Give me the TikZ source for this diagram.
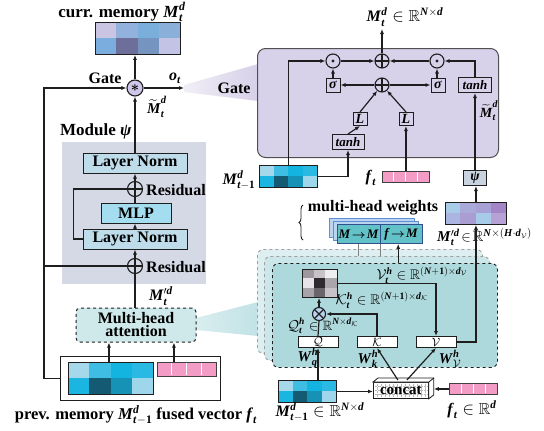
\documentclass[tikz,border=0pt]{standalone}
\usepackage{amsmath,amssymb}
\usepackage{fontspec}
\setmainfont{Liberation Serif}
\usetikzlibrary{arrows.meta,calc,decorations.pathreplacing}

\newcommand\bv[1]{\textbf{\textit{#1}}}
\newcommand\fsz[1]{\fontsize{#1}{#1}\selectfont}

% palette
\definecolor{ink}{HTML}{1E1E1E}
\definecolor{modgray}{HTML}{D5D9E6}
\definecolor{lnblue}{HTML}{BEDCEA}
\definecolor{mlpblue}{HTML}{A5DDF0}
\definecolor{mhafill}{HTML}{CFE9EB}
\definecolor{gatefill}{HTML}{D7D2EA}
\definecolor{gateedge}{HTML}{505050}
\definecolor{starfill}{HTML}{CFC7EA}
\definecolor{gateband}{HTML}{D6D0E8}
\definecolor{attband}{HTML}{C1E2E5}
\definecolor{attA}{HTML}{AED9DC}
\definecolor{attB}{HTML}{CBE7EA}
\definecolor{attC}{HTML}{DDEFF1}
\definecolor{wfront}{HTML}{62C2C8}
\definecolor{wedge}{HTML}{2F4F8F}
\definecolor{wback}{HTML}{BBD5F0}
\definecolor{wbackedge}{HTML}{5E8ED4}
\definecolor{pinkc}{HTML}{F29CC6}
\definecolor{otfill}{HTML}{B7D3EF}
\definecolor{psifill}{HTML}{C9D3DF}
% memory cells
\definecolor{p11}{HTML}{A6D8EC}\definecolor{p12}{HTML}{40BDE3}
\definecolor{p13}{HTML}{14B4E0}\definecolor{p14}{HTML}{2AB9E3}
\definecolor{p21}{HTML}{1AB5E1}\definecolor{p22}{HTML}{145A72}
\definecolor{p23}{HTML}{1592B5}\definecolor{p24}{HTML}{9ED6EC}
\definecolor{c11}{HTML}{C9C5E3}\definecolor{c12}{HTML}{92B1DD}
\definecolor{c13}{HTML}{7AAEDB}\definecolor{c14}{HTML}{8AAFD9}
\definecolor{c21}{HTML}{7BAEDE}\definecolor{c22}{HTML}{6E6E9A}
\definecolor{c23}{HTML}{7594BF}\definecolor{c24}{HTML}{C3C3E5}
\definecolor{m11}{HTML}{A8CBE8}\definecolor{m12}{HTML}{A9A9DA}
\definecolor{m13}{HTML}{A7A1D5}\definecolor{m14}{HTML}{A286C7}
\definecolor{m21}{HTML}{AAB5E1}\definecolor{m22}{HTML}{AA9DD1}
\definecolor{m23}{HTML}{A6CCE9}\definecolor{m24}{HTML}{B8A1D5}
\definecolor{a11}{HTML}{9E989E}\definecolor{a12}{HTML}{C6C2C6}
\definecolor{a13}{HTML}{EEEEEE}\definecolor{a21}{HTML}{E6E4E6}
\definecolor{a22}{HTML}{2E292E}\definecolor{a23}{HTML}{A9A5A9}
\definecolor{a31}{HTML}{A7A3A7}\definecolor{a32}{HTML}{6A656A}
\definecolor{a33}{HTML}{C6C2C6}

% heat map: name, left, top, width, height, columns, rows, cells c/r/colour
\newcommand\heatmap[8]{%
  \foreach \hc/\hr/\hk in {#8}{%
    \fill[\hk] ({#2+\hc*#4/#6},{#3+\hr*#5/#7}) rectangle ++({#4/#6},{#5/#7});}
  \node[draw=ink, line width=0.9pt, inner sep=0pt, minimum width=#4pt,
        minimum height=#5pt, anchor=north west] (#1) at (#2,#3) {};}
% pink feature vector: name, left, top, width, height
\newcommand\pinkvec[5]{%
  \node[fill=pinkc, draw=ink!85, line width=0.9pt, inner sep=0pt, minimum width=#4pt,
        minimum height=#5pt, anchor=north west] (#1) at (#2,#3) {};
  \foreach \pv in {1,2,3}{\draw[white, line width=0.8pt]
     ({#2+\pv*#4/4},{#3+1}) -- ++(0,{#5-2});}}

\tikzset{
  conn/.style={draw=ink, line width=1.2pt},
  arr/.style={conn, -{Latex[length=5pt,width=4pt]}},
  lbl/.style={font=\bfseries\fsz{16}, inner sep=0pt},
  lblsm/.style={font=\bfseries\fsz{14}, inner sep=0pt},
  layerbox/.style={draw=ink, line width=1pt, fill=lnblue, minimum width=104pt,
     minimum height=20pt, inner sep=0pt, font=\bfseries\fsz{16}},
  oplusnode/.style={circle, draw=ink, line width=1.1pt, inner sep=0pt, minimum size=15pt,
     path picture={\draw[ink, line width=1.1pt]
       (path picture bounding box.north) -- (path picture bounding box.south)
       (path picture bounding box.west) -- (path picture bounding box.east);}},
  odotnode/.style={circle, draw=ink, line width=1.1pt, inner sep=0pt, minimum size=14pt,
     path picture={\fill[ink] (path picture bounding box.center) circle (1.7pt);}},
  otimesnode/.style={circle, draw=ink, fill=otfill, line width=1.1pt, inner sep=0pt,
     minimum size=13pt,
     path picture={\draw[ink, line width=1.1pt]
       (path picture bounding box.north west) -- (path picture bounding box.south east)
       (path picture bounding box.south west) -- (path picture bounding box.north east);}},
  gbox/.style={draw=ink, line width=1pt, inner sep=0pt, minimum width=14pt,
     minimum height=14pt, font=\fsz{14}},
  tanhbox/.style={draw=ink, line width=1pt, inner sep=0pt, minimum width=33pt,
     minimum height=15pt, font=\fsz{13}},
  qkvbox/.style={draw=ink, line width=0.9pt, fill=white, inner sep=0pt,
     minimum width=40pt, minimum height=11pt, font=\fsz{12}},
  attlayer/.style={dashed, line width=0.9pt, rounded corners=6pt, minimum width=225pt,
     minimum height=104pt, inner sep=0pt, anchor=north west},
  wlayer/.style={draw=wbackedge, fill=wback, line width=0.9pt, minimum width=85pt,
     minimum height=19pt, inner sep=0pt, anchor=north west},
  wcell/.style={draw=wedge, fill=wfront, line width=0.9pt, minimum width=42.5pt,
     minimum height=19pt, inner sep=0pt, anchor=north west, font=\bfseries\fsz{13}},
}

\begin{document}
\begin{tikzpicture}[x=1pt,y=-1pt]
\useasboundingbox (0,0) rectangle (544,431);
\fill[white] (0,0) rectangle (544,431);

% ---------- zoom bands towards the detailed views ----------
\shade[left color=gateband!35, right color=gateband]
  (184,85) -- (258,64) -- (258,101) -- (184,92) -- cycle;
\shade[left color=attband!60, right color=attband]
  (196,318) -- (258,302) -- (258,336) -- (196,330) -- cycle;

% ---------- left: memory update pipeline ----------
\node[fill=modgray, minimum width=144pt, minimum height=142pt, inner sep=0pt,
      anchor=north west] (modbg) at (62,142) {};

\node[font=\bfseries\fsz{17}, inner sep=0pt] (currlbl) at (122,12)
  {curr. memory $\bv{M}^{\bv{d}}_{\bv{t}}$};
\heatmap{curr}{95}{22}{85}{32}{4}{2}{0/0/c11,1/0/c12,2/0/c13,3/0/c14,0/1/c21,1/1/c22,2/1/c23,3/1/c24}

\node[circle, draw=ink, fill=starfill, line width=1.1pt, minimum size=16pt, inner sep=0pt,
      font=\fsz{14}] (gstar) at (135,88) {$\boldsymbol{\ast}$};
\node[lbl] (gatelbl) at (105,78) {Gate};
\node[lbl] (olbl) at (175,78) {$\bv{o}_{\bv{t}}$};
\coordinate (oend) at (184,88);
\node[lbl, font=\bfseries\fsz{15}] (mtl) at (157,107) {$\widetilde{\bv{M}}^{\bv{d}}_{\bv{t}}$};
\node[lbl, anchor=west, font=\bfseries\fsz{17}] (modlbl) at (60,131) {Module \bv{ψ}};

\node[layerbox] (ln1) at (135,163) {Layer Norm};
\node[oplusnode] (res1) at (135,189) {};
\node[lbl, anchor=west] (res1lbl) at (146,190) {Residual};
\node[layerbox, fill=mlpblue, minimum width=70pt] (mlp) at (136,213) {MLP};
\node[layerbox] (ln2) at (135,239) {Layer Norm};
\node[oplusnode] (res2) at (135,266) {};
\node[lbl, anchor=west] (res2lbl) at (146,267) {Residual};
\node[lbl] (mplbl) at (161,296) {$\bv{M}'^{\bv{d}}_{\bv{t}}$};

\node[draw=ink, fill=mhafill, dashed, line width=1pt, rounded corners=4pt,
      minimum width=120pt, minimum height=34pt, inner sep=0pt, align=center,
      font=\bfseries\fsz{16}] (mha) at (136,325) {Multi-head\\[-3pt]attention};

\node[draw=ink, line width=1pt, minimum width=160pt, minimum height=44pt, inner sep=0pt,
      anchor=north west] (inbox) at (60,356) {};
\heatmap{mprev}{68}{362}{85}{32}{4}{2}{0/0/p11,1/0/p12,2/0/p13,3/0/p14,0/1/p21,1/1/p22,2/1/p23,3/1/p24}
\pinkvec{fprev}{157}{362}{59}{14}
\node[lbl, font=\bfseries\fsz{16.5}] (caption) at (136,415)
  {prev. memory $\bv{M}^{\bv{d}}_{\bv{t}-\textbf{1}}$ fused vector $\bv{f}_{\bv{t}}$};

\coordinate (loopx) at (44,0);
\coordinate (mprevup) at ($(mprev.north)+(-2,0)$);
\coordinate (fprevup) at ($(fprev.north)+(-13,0)$);
\draw[arr] (gstar.north) -- (gstar.north |- curr.south);
\draw[arr] (gstar.east) -- (oend);
\draw[arr] (ln1.north) -- (gstar.south);
\draw[arr] (res1.north) -- (ln1.south);
\draw[conn] (res1.south |- mlp.north) -- (res1.south);
\draw[arr] (ln2.north) -- (ln2.north |- mlp.south);
\draw[conn] (ln2.west) -- ($(ln2.west)+(-9,0)$) |- (res1.west);
\draw[arr] (res2.north) -- (ln2.south);
\draw[conn] (res2.south |- mha.north) -- (res2.south);
\draw[arr] (mprevup) -- (mprevup |- mha.south);
\draw[arr] (fprevup) -- (fprevup |- mha.south);
\draw[arr] (inbox.west) -- (inbox.west -| loopx) |- (gstar.west);
\draw[conn] (res2.west -| loopx) -- (res2.west);

% ---------- right top: gate ----------
\node[draw=gateedge, fill=gatefill, rounded corners=8pt, line width=1pt,
      minimum width=241pt, minimum height=109pt, inner sep=0pt,
      anchor=north west] (gatebox) at (257,48) {};
\node[lbl] (gatelbl2) at (234,88) {Gate};

\node[lbl] (mtop) at (405,17) {$\bv{M}^{\bv{d}}_{\bv{t}} \in \mathbb{R}^{\bv{N}\times\bv{d}}$};
\coordinate (topend) at (382,29);
\node[odotnode] (dotL) at (333,61) {};
\node[oplusnode, minimum size=14pt] (plusTop) at (382,61) {};
\node[odotnode] (dotR) at (437,61) {};
\node[gbox] (sigL) at (333,85) {\bv{σ}};
\node[oplusnode, minimum size=14pt] (plusMid) at (382,85) {};
\node[gbox] (sigR) at (438,85) {\bv{σ}};
\node[tanhbox] (tanhR) at (475,85) {\bv{tanh}};
\node[gbox, minimum height=13pt] (LL) at (360,119) {\bv{L}};
\node[gbox, minimum height=13pt] (LR) at (406,119) {\bv{L}};
\node[tanhbox, minimum width=32pt] (tanhL) at (348,142) {\bv{tanh}};
\node[lbl, font=\bfseries\fsz{14}] (mtl2) at (489,111) {$\widetilde{\bv{M}}^{\bv{d}}_{\bv{t}}$};

\heatmap{mprevT}{259}{165}{58}{22}{4}{2}{0/0/p11,1/0/p12,2/0/p13,3/0/p14,0/1/p21,1/1/p22,2/1/p23,3/1/p24}
\node[lbl] (mprevTlbl) at (239,180) {$\bv{M}^{\bv{d}}_{\bv{t}-\textbf{1}}$};
\pinkvec{fT}{382}{171}{47}{11}
\node[lbl] (fTlbl) at (371,178) {$\bv{f}_{\bv{t}}$};
\node[draw=ink, fill=psifill, line width=1pt, minimum width=23pt, minimum height=15pt,
      inner sep=0pt, font=\fsz{14}] (psi) at (475,178) {\bv{ψ}};

\draw[arr] (plusTop.north) -- (topend);
\draw[arr] (mprevT.north) |- (dotL.west);
\draw[arr] (mprevT.east) -| (tanhL.south);
\draw[arr] (tanhL.north) -- (LL.south);
\draw[arr] (LL.north) -- (plusMid);
\draw[arr] (LR.north) -- (plusMid);
\draw[arr] (fT.north) -- (fT.north |- LR.south);
\draw[arr] (plusMid.west) -- (sigL.east);
\draw[arr] (plusMid.east) -- (sigR.west);
\draw[arr] (sigL.north) -- (dotL.south);
\draw[arr] (dotR.south |- sigR.north) -- (dotR.south);
\draw[arr] (dotL.east) -- (plusTop.west);
\draw[arr] (dotR.west) -- (plusTop.east);
\draw[arr] (tanhR.north) |- (dotR.east);
\draw[arr] (psi.north) -- (tanhR.south);

% ---------- right bottom: multi-head attention ----------
\node[attlayer, draw=gray!75, fill=attC] (attB2) at (257,249) {};
\node[attlayer, draw=gray!75, fill=attB] (attB1) at (264,256) {};
\node[attlayer, draw=ink, fill=attA] (att) at (272,263) {};

\draw[ink, line width=0.9pt, decorate, decoration={brace, amplitude=4pt}]
  (303,240) -- (303,205);
\node[lbl] (mhwlbl) at (373,208) {multi-head weights};
\node[wlayer] (wB2) at (329,218) {};
\node[wlayer] (wB1) at (333,221) {};
\node[wcell] (wMM) at (337,224) {$\bv{M}\mkern-3mu\boldsymbol{\rightarrow}\mkern-3mu\bv{M}$};
\node[wcell] (wfM) at (379.5,224) {$\bv{f}\mkern-3mu\boldsymbol{\rightarrow}\mkern-3mu\bv{M}$};
\coordinate (wfMdn) at ($(wfM.south)+(-3,0)$);
\draw[gray, line width=1pt] (wMM.south) -- (wMM.south |- attB1.north);
\draw[gray, line width=1pt] (wMM.south east) -- (wMM.south east |- attB1.north);
\draw[arr] (wfMdn |- att.north) -- (wfMdn);

\heatmap{Mp}{445}{202}{61}{22}{4}{2}{0/0/m11,1/0/m12,2/0/m13,3/0/m14,0/1/m21,1/1/m22,2/1/m23,3/1/m24}
\node[lbl, anchor=west, font=\bfseries\fsz{15}] (Mplbl) at (437,237)
  {$\bv{M}'^{\bv{d}}_{\bv{t}}\!\in\!\mathbb{R}^{\bv{N}\times(\bv{H}\cdot \bv{d}_{\mathcal{V}})}$};

\heatmap{amap}{302}{269}{35}{28}{3}{3}{0/0/a11,1/0/a12,2/0/a13,0/1/a21,1/1/a22,2/1/a23,0/2/a31,1/2/a32,2/2/a33}
\node[otimesnode] (otimes) at (319,314) {};
\node[qkvbox] (Q) at (318,342) {$\mathcal{Q}$};
\node[qkvbox] (K) at (377,342) {$\mathcal{K}$};
\node[qkvbox] (V) at (436,342) {$\mathcal{V}$};

\node[lblsm] (Vlbl) at (422,275)
  {$\mathcal{V}^{\bv{h}}_{\bv{t}} \in \mathbb{R}^{(\bv{N}+\textbf{1})\times \bv{d}_{\mathcal{V}}}$};
\node[lblsm] (Klbl) at (382,300)
  {$\mathcal{K}^{\bv{h}}_{\bv{t}} \in \mathbb{R}^{(\bv{N}+\textbf{1})\times \bv{d}_{\mathcal{K}}}$};
\node[lblsm, font=\bfseries\fsz{13.5}] (Qlbl) at (323,326)
  {$\mathcal{Q}^{\bv{h}}_{\bv{t}} \in \mathbb{R}^{\bv{N}\times \bv{d}_{\mathcal{K}}}$};
\node[lbl, font=\bfseries\fsz{15}] (Wq) at (308,358) {$\bv{W}^{\bv{h}}_{\bv{q}}$};
\node[lbl, font=\bfseries\fsz{15}] (Wk) at (368,359) {$\bv{W}^{\bv{h}}_{\bv{k}}$};
\node[lbl, font=\bfseries\fsz{15}] (Wv) at (450,359) {$\bv{W}^{\bv{h}}_{\mathcal{V}}$};

% concat block with a shallow 3-D rim
\node[draw=ink, fill=white, line width=0.8pt, minimum width=55pt, minimum height=16pt,
      inner sep=0pt, anchor=north west, font=\bfseries\fsz{15},
      path picture={
        \foreach \gi in {1,...,13}
          \draw[gray!55, densely dotted, line width=0.4pt]
            ($(path picture bounding box.north west)+(\gi*4,0)$) -- ++(0,16);
        \foreach \gj in {1,2,3}
          \draw[gray!55, densely dotted, line width=0.4pt]
            ($(path picture bounding box.north west)+(0,\gj*4)$) -- ++(55,0);}]
      (concat) at (373,382) {concat};
\draw[ink, fill=white, line width=0.8pt]
  (concat.north west) -- ($(concat.north west)+(5,-4)$) -- ($(concat.north east)+(5,-4)$)
  -- ($(concat.south east)+(5,-4)$) -- (concat.south east) -- (concat.north east) -- cycle;
\draw[ink, line width=0.8pt] (concat.north east) -- ($(concat.north east)+(5,-4)$);
\coordinate (cside) at ($(concat.east)+(5,0)$);
\coordinate (cupK) at ($(concat.north)+(-3,-2)$);
\coordinate (cupV) at ($(concat.north)+(6,-2)$);

\heatmap{Mb}{278}{380}{58}{22}{4}{2}{0/0/p11,1/0/p12,2/0/p13,3/0/p14,0/1/p21,1/1/p22,2/1/p23,3/1/p24}
\pinkvec{fb}{449}{383}{48}{11}
\node[lbl] (Mblbl) at (320,412) {$\bv{M}^{\bv{d}}_{\bv{t}-\textbf{1}} \in \mathbb{R}^{\bv{N}\times\bv{d}}$};
\node[lbl] (fblbl) at (472,410) {$\bv{f}_{\bv{t}} \in \mathbb{R}^{\bv{d}}$};

\draw[arr] (amap.east) -| (V.north);
\draw[arr] (otimes.north) -- (otimes.north |- amap.south);
\draw[conn] (Q.north) -- (otimes.south);
\draw[arr] (K.north) |- (otimes.east);
\draw[arr] (cupK) -- (K.south);
\draw[arr] (cupV) -- (V.south);
\draw[arr] (Q.south |- Mb.north) -- (Q.south);
\draw[arr] (Mb.east) -- (Mb.east -| concat.west);
\draw[arr] (fb.west) -- (fb.west -| cside);
\draw[arr] (V.east) -| (Mp.south);
\draw[arr] (Mp.north) -- (Mp.north |- psi.south);
\end{tikzpicture}
\end{document}
